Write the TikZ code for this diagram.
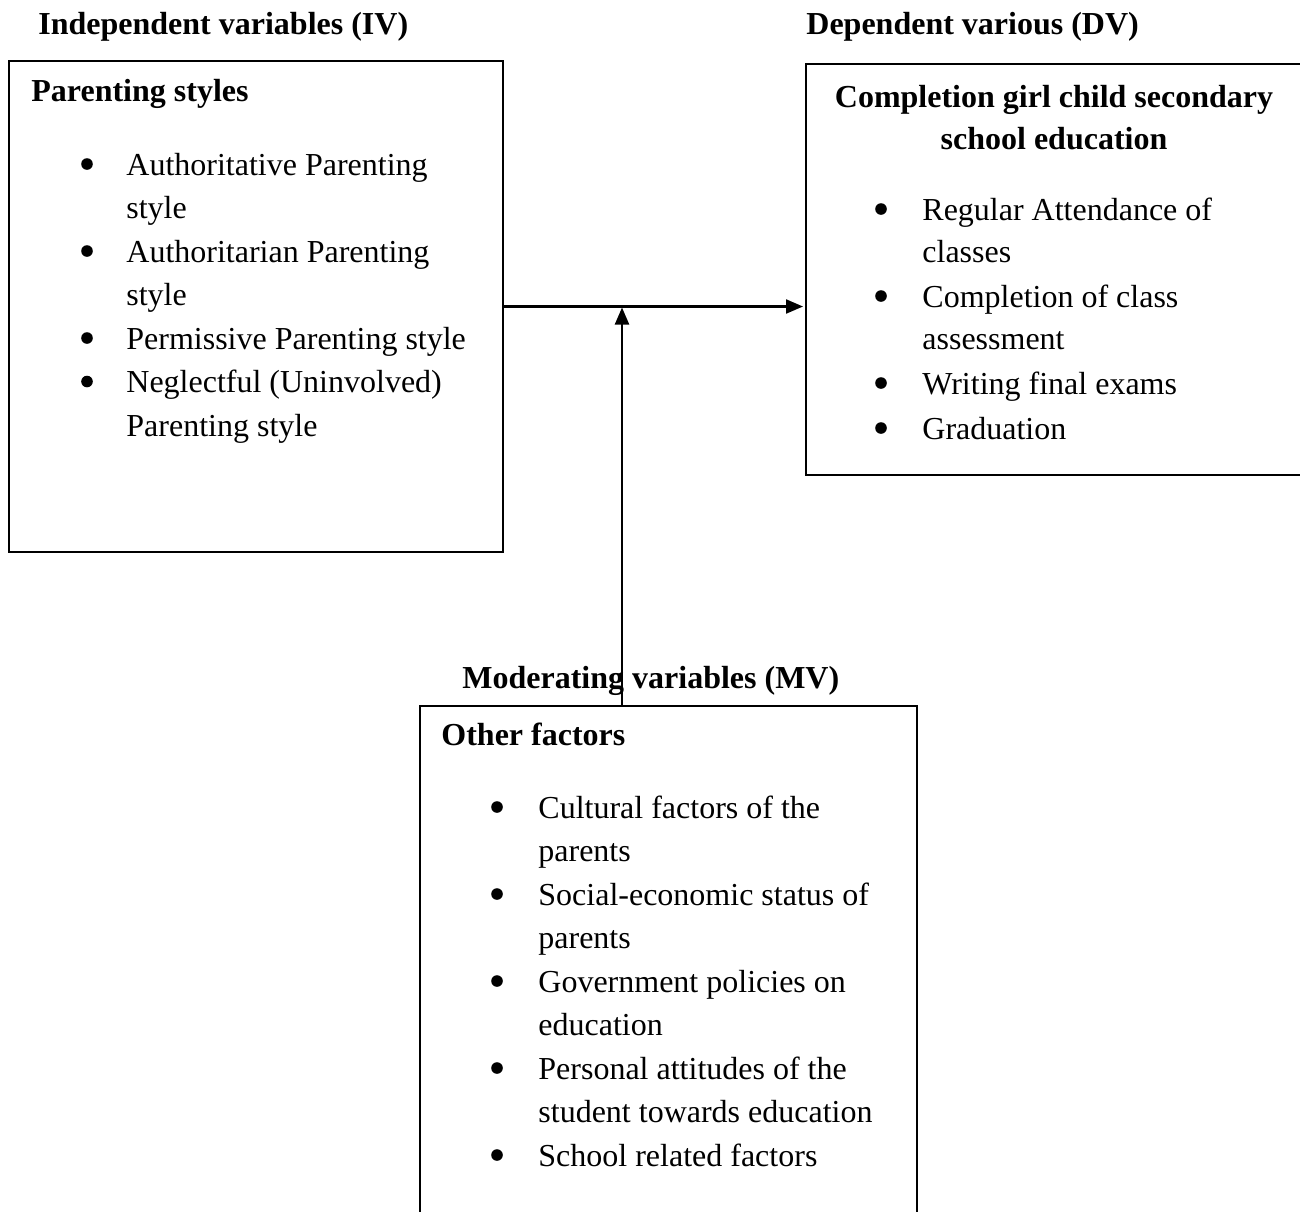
\documentclass[tikz,border=0pt]{standalone}
\usepackage{fontspec}
\setmainfont{Liberation Serif}
\usetikzlibrary{arrows.meta}
\tikzset{
  box/.style={draw, line width=1.1pt, inner sep=0pt, outer sep=0pt},
  txt/.style={anchor=base west, inner sep=0pt, font=\fontsize{16}{21.75}\selectfont},
  ttl/.style={txt, font=\fontsize{16}{21.75}\selectfont\bfseries},
  ctl/.style={ttl, anchor=base},
  conn/.style={line width=1.1pt, -{Triangle[length=8.5pt,width=7pt]}},
  dot/.style={fill=black}
}
\begin{document}
\begin{tikzpicture}[x=0.5pt,y=-0.5pt]
\useasboundingbox (0,0) rectangle (1300,1211);
\clip (0,0) rectangle (1300,1211);
% boxes
\node[box, minimum width=247pt, minimum height=245.5pt] (ivbox) at (256,306.5) {};
\node[box, minimum width=252pt, minimum height=205.5pt] (dvbox) at (1058,269.5) {};
\node[box, minimum width=248.5pt, minimum height=262pt] (mvbox) at (668.5,968) {};
% headings
\node[ttl] (ivlab) at (38,34) {Independent variables (IV)};
\node[ttl] (dvlab) at (806,34) {Dependent various (DV)};
\node[ttl] (mvlab) at (462,688) {Moderating variables (MV)};
\node[ttl] (ivt) at (31,101) {Parenting styles};
\node[ctl] (dvt1) at (1054,107) {Completion girl child secondary};
\node[ctl] (dvt2) at (1054,149) {school education};
\node[ttl] (mvt) at (441,745) {Other factors};
% left list
\foreach \y in {175,262,349,392.5} \fill[dot] (87,\y-11) circle (2.9pt);
\node[txt] (a1) at (126,175) {Authoritative Parenting};
\node[txt] (a2) at (126,218.5) {style};
\node[txt] (a3) at (126,262) {Authoritarian Parenting};
\node[txt] (a4) at (126,305.5) {style};
\node[txt] (a5) at (126,349) {Permissive Parenting style};
\node[txt] (a6) at (126,392.5) {Neglectful (Uninvolved)};
\node[txt] (a7) at (126,436) {Parenting style};
% right list
\foreach \y in {220,307,394,439} \fill[dot] (881,\y-11) circle (2.9pt);
\node[txt] (b1) at (922,220) {Regular Attendance of};
\node[txt] (b2) at (922,262) {classes};
\node[txt] (b3) at (922,307) {Completion of class};
\node[txt] (b4) at (922,349) {assessment};
\node[txt] (b5) at (922,394) {Writing final exams};
\node[txt] (b6) at (922,439) {Graduation};
% bottom list
\foreach \y in {818,905,992,1079,1166} \fill[dot] (497,\y-11) circle (2.9pt);
\node[txt] (c1) at (538,818) {Cultural factors of the};
\node[txt] (c2) at (538,861) {parents};
\node[txt] (c3) at (538,905) {Social-economic status of};
\node[txt] (c4) at (538,948) {parents};
\node[txt] (c5) at (538,992) {Government policies on};
\node[txt] (c6) at (538,1035) {education};
\node[txt] (c7) at (538,1079) {Personal attitudes of the};
\node[txt] (c8) at (538,1122) {student towards education};
\node[txt] (c9) at (538,1166) {School related factors};
% connectors
\coordinate (jn) at (622,307.5);
\coordinate (dvin) at (803,306.5);
\draw[conn] (ivbox.east) -- (dvin);
\draw[conn] (jn |- mvbox.north) -- (jn);
\end{tikzpicture}
\end{document}
